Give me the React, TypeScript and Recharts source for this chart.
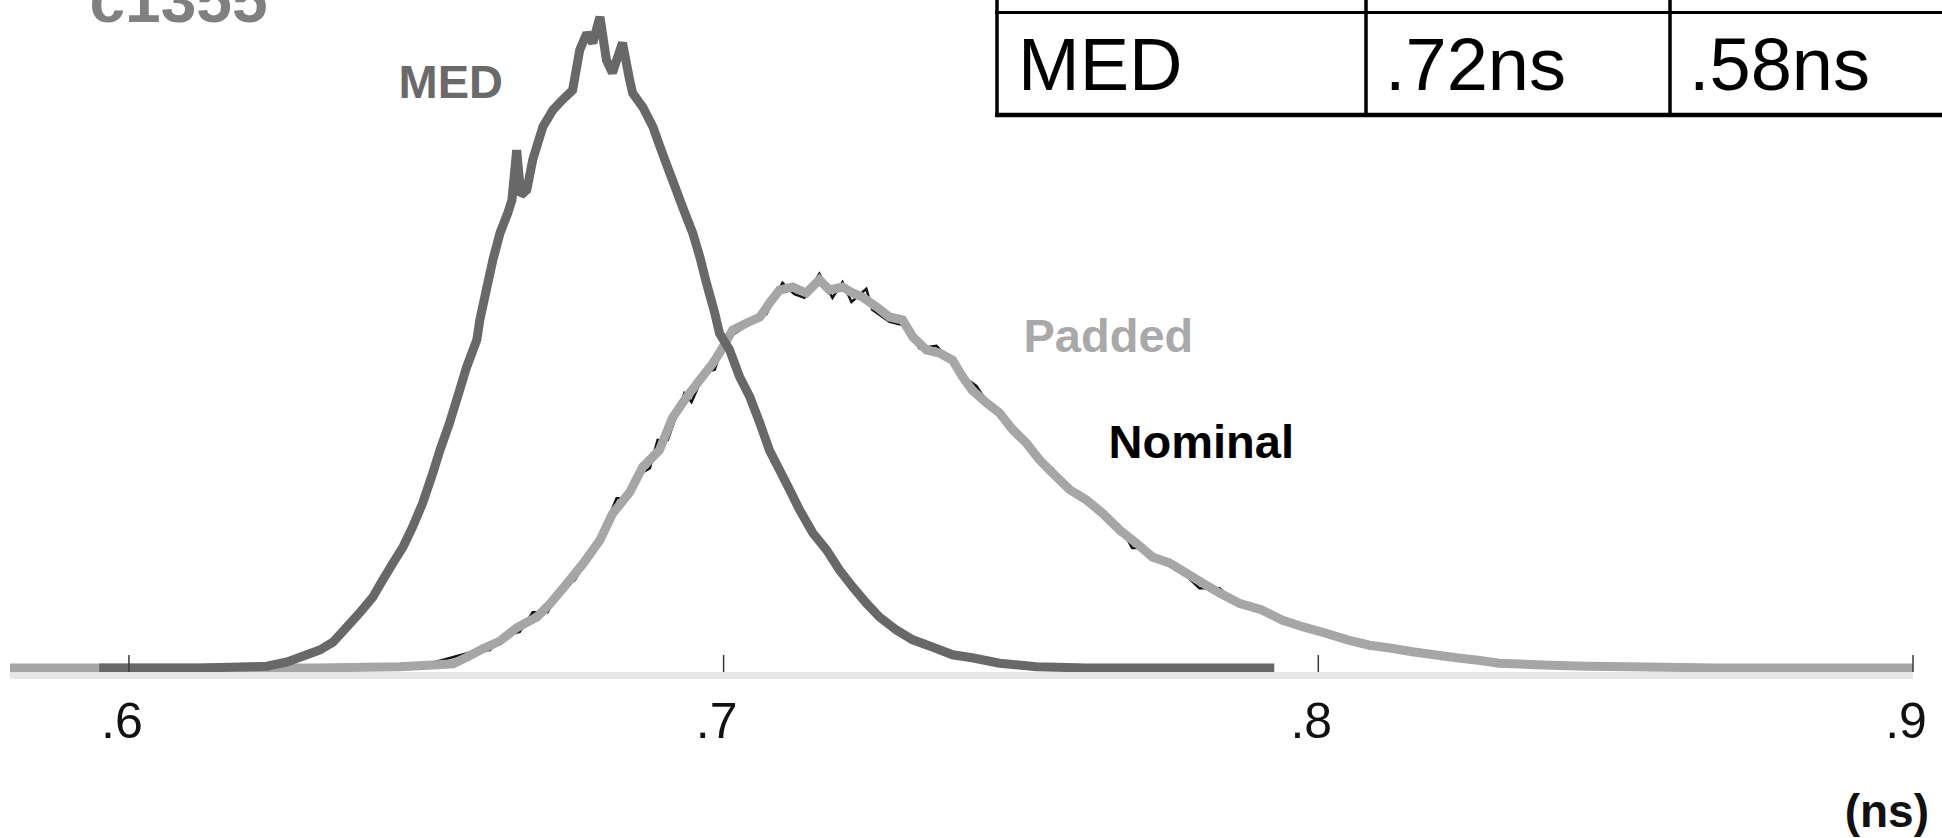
import React from 'react';
import { LineChart, Line, XAxis, YAxis } from 'recharts';

// x: delay (ns), y: number of samples per bin
const xTicks = [0.6, 0.7, 0.8, 0.9];
const tickLabels = ['.6', '.7', '.8', '.9'];

const tableRow = ['MED', '.72ns', '.58ns'];

const medSamples: [number, number][] = [
  [0.595, 0], [0.6119, 0], [0.6203, 2], [0.6232, 3], [0.6266, 10], [0.6299, 22], [0.6321, 30],
  [0.6343, 43], [0.6366, 68], [0.6388, 92], [0.641, 118], [0.6427, 147], [0.6444, 175],
  [0.6461, 202], [0.6477, 235], [0.6494, 275], [0.6511, 325], [0.6523, 363], [0.6539, 408],
  [0.6556, 463], [0.6568, 502], [0.6585, 547], [0.659, 580], [0.6602, 635], [0.6612, 680],
  [0.6624, 725], [0.6637, 758], [0.6644, 780], [0.6652, 863], [0.6659, 788], [0.6669, 797],
  [0.6679, 847], [0.6696, 902], [0.6713, 930], [0.6729, 947], [0.6746, 963], [0.6758, 1030],
  [0.677, 1058], [0.678, 1042], [0.6792, 1085], [0.6803, 1013], [0.6813, 992], [0.683, 1042],
  [0.6842, 980], [0.6847, 958], [0.6864, 935], [0.6881, 902], [0.6897, 858], [0.6914, 813],
  [0.6931, 768], [0.6948, 725], [0.696, 685], [0.6971, 642], [0.6985, 592], [0.6993, 558],
  [0.701, 530], [0.7027, 485], [0.7044, 452], [0.7061, 408], [0.7077, 363], [0.7094, 330],
  [0.7111, 297], [0.7128, 263], [0.715, 225], [0.7173, 197], [0.7195, 163], [0.7217, 135],
  [0.724, 108], [0.7262, 85], [0.7291, 63], [0.7318, 47], [0.7351, 35], [0.7385, 22],
  [0.7418, 17], [0.7464, 8], [0.7526, 2], [0.761, 0], [0.7926, 0],
];

const paddedSamples: [number, number][] = [
  [0.58, 0], [0.6316, 0], [0.6455, 2], [0.6511, 5], [0.6545, 7], [0.6568, 18], [0.6595, 32],
  [0.6624, 45], [0.6652, 67], [0.6686, 85], [0.6708, 107], [0.6736, 140], [0.6763, 173],
  [0.6792, 213], [0.6813, 257], [0.6842, 293], [0.6864, 335], [0.6892, 363], [0.6914, 417],
  [0.6938, 452], [0.696, 480], [0.6982, 508], [0.6993, 525], [0.7015, 563], [0.7039, 575],
  [0.7061, 585], [0.7077, 608], [0.7094, 630], [0.7116, 635], [0.7139, 625], [0.7161, 647],
  [0.7178, 630], [0.72, 635], [0.7217, 625], [0.7234, 618], [0.7257, 602], [0.7279, 585],
  [0.7301, 580], [0.7318, 552], [0.7341, 530], [0.7363, 525], [0.7385, 513], [0.7402, 485],
  [0.7418, 463], [0.7442, 442], [0.7464, 425], [0.7486, 397], [0.7509, 375], [0.7531, 347],
  [0.7553, 325], [0.7582, 297], [0.761, 280], [0.7637, 258], [0.7666, 230], [0.7694, 208],
  [0.7721, 185], [0.775, 175], [0.7778, 158], [0.7805, 142], [0.7834, 125], [0.7867, 108],
  [0.7904, 97], [0.7939, 80], [0.7976, 68], [0.8013, 58], [0.8049, 47], [0.8086, 38],
  [0.8123, 33], [0.8158, 27], [0.8195, 22], [0.8232, 17], [0.8269, 13], [0.8304, 8],
  [0.8378, 5], [0.845, 3], [0.8523, 2], [0.8669, 0], [0.9, 0],
];

const nominalSamples: [number, number][] = [
  [0.58, 0], [0.6338, 0], [0.6489, 3], [0.6578, 27], [0.6607, 30], [0.6629, 53], [0.6657, 60],
  [0.6679, 93], [0.6704, 93], [0.6724, 130], [0.675, 147], [0.6775, 188], [0.6805, 247],
  [0.682, 283], [0.6839, 283], [0.6854, 320], [0.6876, 333], [0.6889, 380], [0.6906, 380],
  [0.6934, 458], [0.6946, 443], [0.6968, 493], [0.6985, 497], [0.7002, 547], [0.7027, 563],
  [0.7052, 580], [0.7072, 590], [0.7099, 642], [0.7119, 623], [0.7136, 617], [0.7161, 657],
  [0.7183, 617], [0.72, 643], [0.7215, 610], [0.724, 632], [0.725, 597], [0.7279, 577],
  [0.7308, 570], [0.7329, 533], [0.7358, 537], [0.738, 513], [0.7397, 490], [0.7425, 470],
  [0.7452, 430], [0.7481, 410], [0.7509, 380], [0.7536, 340], [0.7553, 333], [0.757, 305],
  [0.7598, 293], [0.7644, 257], [0.7666, 237], [0.7687, 200], [0.7708, 200], [0.7721, 180],
  [0.775, 180], [0.78, 133], [0.7834, 133], [0.7867, 103], [0.7901, 103], [0.7939, 75],
  [0.7976, 73], [0.8013, 53], [0.8052, 50], [0.8086, 33], [0.8136, 32], [0.8187, 20],
  [0.8237, 20], [0.8304, 7], [0.8388, 7], [0.8523, 0], [0.9, 0],
];

const toPoints = (s: [number, number][]) => s.map(([x, y]) => ({ x, y }));
const medData = toPoints(medSamples);
const paddedData = toPoints(paddedSamples);
const nominalData = toPoints(nominalSamples);

const FONT = '"Liberation Sans", Arial, Helvetica, sans-serif';

const AxisTick = (props: any) => {
  const { x, y, payload } = props;
  const idx = xTicks.indexOf(payload.value);
  return (
    <g>
      <line x1={x} x2={x} y1={y - 20.5} y2={y - 3.5} stroke="#3a3a3a" strokeWidth={1.5} />
      <text x={x - 7} y={y + 62} textAnchor="middle" fontFamily={FONT} fontSize={50} fill="#111">
        {idx >= 0 ? tickLabels[idx] : ''}
      </text>
    </g>
  );
};

export default function App() {
  return (
    <div style={{ position: 'absolute', left: 0, top: 0, width: 1942, height: 838, background: '#fff', overflow: 'hidden' }}>
      <LineChart width={1942} height={838} margin={{ top: 8, right: 29, left: 10, bottom: 62.5 }}>
        <XAxis
          type="number"
          dataKey="x"
          domain={[0.58, 0.9]}
          ticks={xTicks}
          allowDataOverflow
          height={100}
          axisLine={{ stroke: '#e6e6e6', strokeWidth: 7 }}
          tickLine={false}
          tickSize={0}
          tickMargin={0}
          tick={<AxisTick />}
          interval={0}
        />
        <YAxis type="number" dataKey="y" domain={[-12.5, 1100]} allowDataOverflow hide />
        <Line data={nominalData} dataKey="y" type="linear" stroke="#111111" strokeWidth={2.5} dot={false} isAnimationActive={false} />
        <Line data={paddedData} dataKey="y" type="linear" stroke="#a6a6a6" strokeWidth={9} strokeMiterlimit={2} dot={false} isAnimationActive={false} />
        <Line data={medData} dataKey="y" type="linear" stroke="#686868" strokeWidth={9} strokeMiterlimit={2} dot={false} isAnimationActive={false} />
      </LineChart>
      <svg width={1942} height={838} style={{ position: 'absolute', left: 0, top: 0, pointerEvents: 'none' }}>
        <text x={89.5} y={22} fontFamily={FONT} fontWeight="bold" fontSize={64} fill="#808080">c1355</text>
        <text x={398.6} y={98} fontFamily={FONT} fontWeight="bold" fontSize={47} fill="#6a6a6a">MED</text>
        <text x={1023.5} y={352} fontFamily={FONT} fontWeight="bold" fontSize={47} fill="#a9a9a9">Padded</text>
        <text x={1108.6} y={458} fontFamily={FONT} fontWeight="bold" fontSize={47} fill="#000">Nominal</text>
        <text x={1929} y={827} textAnchor="end" fontFamily={FONT} fontWeight="bold" fontSize={46} fill="#111">(ns)</text>
        {/* table */}
        <line x1={995} x2={1942} y1={12.5} y2={12.5} stroke="#000" strokeWidth={3} />
        <line x1={995} x2={1942} y1={115} y2={115} stroke="#000" strokeWidth={4.5} />
        <line x1={997} x2={997} y1={0} y2={117} stroke="#000" strokeWidth={3.5} />
        <line x1={1366} x2={1366} y1={0} y2={117} stroke="#000" strokeWidth={3.5} />
        <line x1={1670} x2={1670} y1={0} y2={117} stroke="#000" strokeWidth={3.5} />
        <text x={1018} y={90} fontFamily={FONT} fontSize={74} fill="#000">{tableRow[0]}</text>
        <text x={1385} y={90} fontFamily={FONT} fontSize={74} fill="#000">{tableRow[1]}</text>
        <text x={1689} y={90} fontFamily={FONT} fontSize={74} fill="#000">{tableRow[2]}</text>
      </svg>
    </div>
  );
}
